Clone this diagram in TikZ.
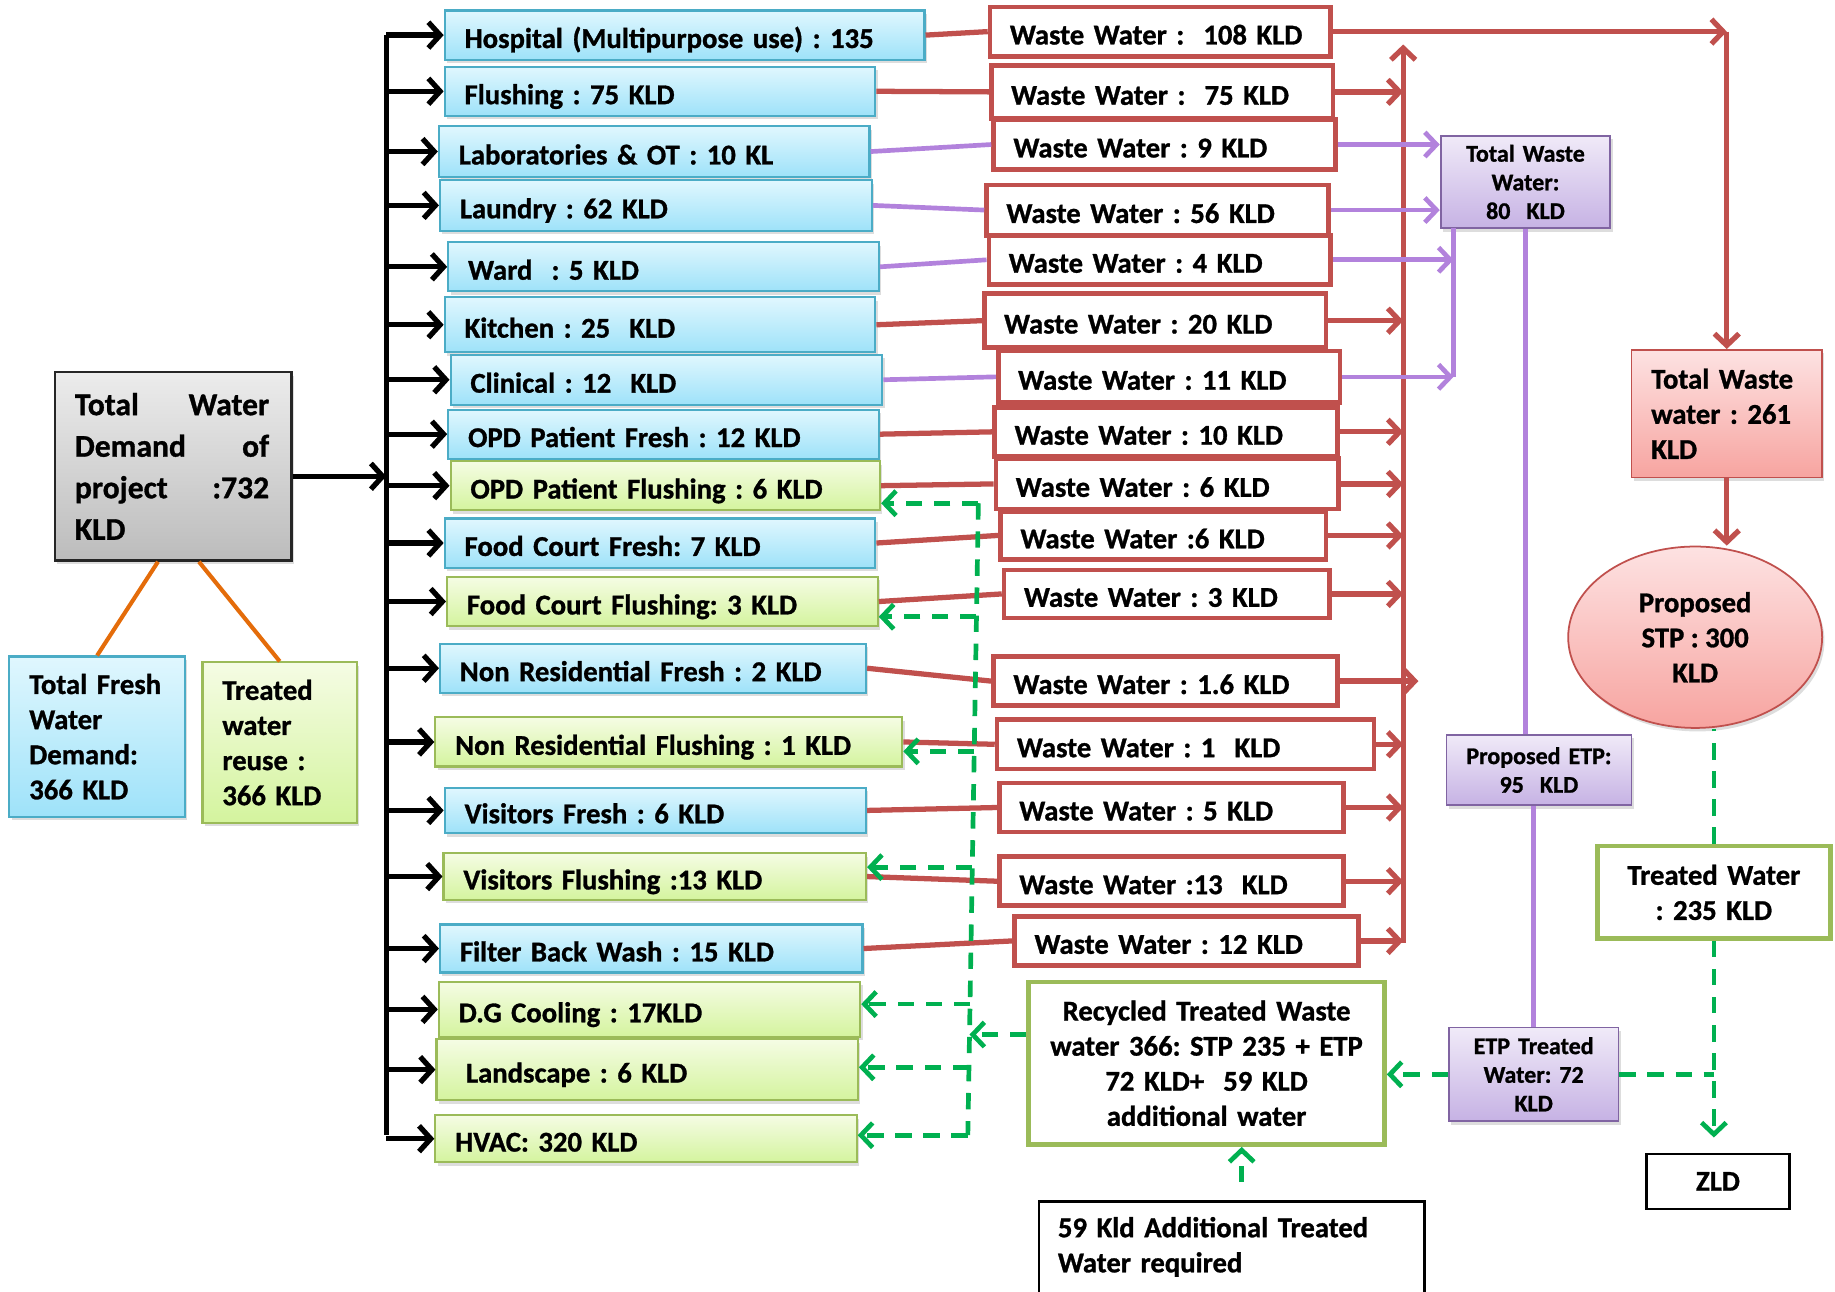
\documentclass[tikz,border=0pt]{standalone}
\usepackage{fontspec}
\setmainfont{Carlito}[BoldFeatures={FakeBold=1}]
\usetikzlibrary{arrows.meta,shapes.geometric,shadows,calc}
\definecolor{bluetop}{RGB}{224,247,254}
\definecolor{bluebot}{RGB}{158,226,249}
\definecolor{bluebd}{RGB}{75,172,198}
\definecolor{greentop}{RGB}{245,252,228}
\definecolor{greenbot}{RGB}{212,244,158}
\definecolor{greenbd}{RGB}{155,187,89}
\definecolor{graytop}{RGB}{236,236,236}
\definecolor{graybot}{RGB}{188,188,188}
\definecolor{pinktop}{RGB}{253,226,226}
\definecolor{pinkbot}{RGB}{247,164,160}
\definecolor{purtop}{RGB}{240,234,248}
\definecolor{purbot}{RGB}{198,178,228}
\definecolor{purbd}{RGB}{128,100,162}
\definecolor{cred}{RGB}{192,80,77}
\definecolor{cpur}{RGB}{178,130,220}
\definecolor{corn}{RGB}{228,108,10}
\definecolor{cgrn}{RGB}{0,176,80}
\newcommand\mkbox[7]{%
 \pgfmathsetmacro\bxw{(#5)-(#3)}%
 \pgfmathsetmacro\bxh{(#6)-(#4)}%
 \pgfmathsetmacro\bxc{((#3)+(#5))/2}%
 \pgfmathsetmacro\byc{((#4)+(#6))/2}%
 \pgfmathsetmacro\btw{\bxw-34}%
 \node[#2, text width=\btw pt, minimum height=\bxh pt] (#1) at (\bxc,\byc) {#7};}
\newcommand\mkboxc[7]{%
 \pgfmathsetmacro\bxw{(#5)-(#3)}%
 \pgfmathsetmacro\bxh{(#6)-(#4)}%
 \pgfmathsetmacro\bxc{((#3)+(#5))/2}%
 \pgfmathsetmacro\byc{((#4)+(#6))/2}%
 \pgfmathsetmacro\btw{\bxw-4}%
 \node[#2, inner xsep=2pt, align=center, text width=\btw pt, minimum height=\bxh pt] (#1) at (\bxc,\byc) {#7};}
\tikzset{
 fnt/.style={font=\bfseries\fontsize{24.5}{30}\selectfont},
 sml/.style={font=\bfseries\fontsize{20.5}{24.5}\selectfont},
 shdw/.style={drop shadow={shadow xshift=2pt, shadow yshift=-3pt, opacity=0.22, fill=black!60}},
 boxbase/.style={fnt, rectangle, inner ysep=0pt, inner xsep=17pt, align=left},
 one/.style={text height=22pt, text depth=0pt},
 bluebox/.style={boxbase, draw=bluebd, line width=1.8pt, top color=bluetop, bottom color=bluebot, shdw},
 greenbox/.style={boxbase, draw=greenbd, line width=1.8pt, top color=greentop, bottom color=greenbot, shdw},
 wastebox/.style={boxbase, one, draw=cred, line width=4pt, fill=white},
 graybox/.style={boxbase, draw=black!85, line width=2pt, top color=graytop, bottom color=graybot, shdw},
 pinkbox/.style={boxbase, draw=cred, line width=1.5pt, top color=pinktop, bottom color=pinkbot, shdw},
 purbox/.style={boxbase, sml, draw=purbd, line width=1.5pt, top color=purtop, bottom color=purbot, shdw},
 gbord/.style={boxbase, draw=greenbd, line width=4pt, fill=white},
 kbord/.style={boxbase, draw=black, line width=2pt, fill=white},
 stpst/.style={fnt, ellipse, draw=cred, line width=1.5pt, top color=pinktop, bottom color=pinkbot, shdw, inner sep=0pt, align=center},
 blkln/.style={draw=black, line width=4.5pt},
 blk/.style={blkln, -{Straight Barb[length=10pt,width=22pt]}},
 redln/.style={draw=cred, line width=4.5pt},
 redarr/.style={redln, -{Straight Barb[length=10pt,width=21pt]}},
 purln/.style={draw=cpur, line width=4pt},
 purarr/.style={purln, -{Straight Barb[length=10pt,width=21pt]}},
 orn/.style={draw=corn, line width=3.5pt},
 grn/.style={draw=cgrn, line width=4pt, dash pattern=on 14pt off 10pt},
 grnarr/.style={grn, -{Straight Barb[length=10pt,width=21pt]}},
}
\begin{document}
\frenchspacing
\begin{tikzpicture}[x=1pt,y=-1pt]
\useasboundingbox (0,0) rectangle (1568,1104);
% left summary boxes
\mkbox{tot}{graybox, font=\bfseries\fontsize{27}{35.5}\selectfont}{47}{318}{249}{479}{\makebox[166pt][l]{Total\hfill Water}\\\makebox[166pt][l]{Demand\hfill of}\\\makebox[166pt][l]{project\hfill :732}\\KLD}
\mkbox{fresh}{bluebox}{8}{561}{158}{698}{Total Fresh\\Water\\Demand:\\366 KLD}
\mkbox{treat}{greenbox}{173}{566}{305}{703}{Treated\\water\\reuse :\\366 KLD}
\draw[orn] ([xshift=-13pt]tot.south) -- (fresh.north);
\draw[orn] ([xshift=22pt]tot.south) -- (treat.north);
% demand boxes
\mkbox{h1}{bluebox,one}{380}{9}{790}{51}{Hospital (Multipurpose use) : 135}
\mkbox{h2}{bluebox,one}{380}{57}{748}{99}{Flushing : 75 KLD}
\mkbox{h3}{bluebox,one}{375}{108}{743}{151}{Laboratories \& OT : 10 KL}
\mkbox{h4}{bluebox,one}{376}{154}{745}{197}{Laundry : 62 KLD}
\mkbox{h5}{bluebox,one}{383}{207}{751}{249}{Ward~ : 5 KLD}
\mkbox{h6}{bluebox,one}{380}{254}{748}{301}{Kitchen : 25~ KLD}
\mkbox{h7}{bluebox,one}{385}{303}{754}{346}{Clinical : 12~ KLD}
\mkbox{h8}{bluebox,one}{383}{350}{751}{392}{OPD Patient Fresh : 12 KLD}
\mkbox{h9}{greenbox,one}{385}{394}{752}{436}{OPD Patient Flushing : 6 KLD}
\mkbox{h10}{bluebox,one}{380}{443}{748}{485}{Food Court Fresh: 7 KLD}
\mkbox{h11}{greenbox,one}{382}{493}{750}{535}{Food Court Flushing: 3 KLD}
\mkbox{h12}{bluebox,one}{376}{550}{740}{592}{Non Residential Fresh : 2 KLD}
\mkbox{h13}{greenbox,one}{372}{613}{771}{655}{Non Residential Flushing : 1 KLD}
\mkbox{h14}{bluebox,one}{380}{673}{740}{712}{Visitors Fresh : 6 KLD}
\mkbox{h15}{greenbox,one}{379}{729}{740}{769}{Visitors Flushing :13 KLD}
\mkbox{h16}{bluebox,one}{376}{790}{737}{831}{Filter Back Wash : 15 KLD}
\mkbox{h17}{greenbox,one}{375}{839}{735}{886}{D.G Cooling : 17KLD}
\mkbox{h18}{greenbox,one}{373}{888}{733}{940}{~Landscape : 6 KLD}
\mkbox{h19}{greenbox,one}{372}{953}{732}{993}{HVAC: 320 KLD}
% bus
\coordinate (bustop) at (330,30);
\coordinate (busbot) at (330,970);
\draw[blkln] (bustop) -- (busbot);
\draw[blk] ([yshift=-8.5pt]tot.east) -- ([yshift=-8.5pt]tot.east -| bustop);
\foreach \i in {1,...,19}{\draw[blk] (h\i.west -| bustop) -- (h\i.west);}
% waste boxes
\mkbox{w1}{wastebox}{846}{6}{1137}{48}{Waste Water :~ 108 KLD}
\mkbox{w2}{wastebox}{847}{56}{1139}{101}{Waste Water :~ 75 KLD}
\mkbox{w3}{wastebox}{849}{102}{1141}{145}{Waste Water : 9 KLD}
\mkbox{w4}{wastebox}{843}{158}{1135}{201}{Waste Water : 56 KLD}
\mkbox{w5}{wastebox}{845}{201}{1137}{243}{Waste Water : 4 KLD}
\mkbox{w6}{wastebox}{841}{251}{1133}{297}{Waste Water : 20 KLD}
\mkbox{w7}{wastebox}{853}{300}{1145}{344}{Waste Water : 11 KLD}
\mkbox{w8}{wastebox}{850}{348}{1143}{390}{Waste Water : 10 KLD}
\mkbox{w9}{wastebox}{851}{392}{1144}{435}{Waste Water : 6 KLD}
\mkbox{w10}{wastebox}{855}{437}{1133}{478}{Waste Water :6 KLD}
\mkbox{w11}{wastebox}{858}{487}{1136}{528}{Waste Water : 3 KLD}
\mkbox{w12}{wastebox}{849}{561}{1143}{603}{Waste Water : 1.6 KLD}
\mkbox{w13}{wastebox}{852}{615}{1174}{657}{Waste Water : 1~ KLD}
\mkbox{w14}{wastebox}{854}{669}{1148}{711}{Waste Water : 5 KLD}
\mkbox{w15}{wastebox}{854}{732}{1148}{774}{Waste Water :13~ KLD}
\mkbox{w16}{wastebox}{867}{783}{1161}{825}{Waste Water : 12 KLD}
% demand -> waste
\foreach \i in {1,2,6,8,9,10,11,12,13,14,15,16}{\draw[redln] (h\i.east) -- (w\i.west);}
\foreach \i in {3,4,5,7}{\draw[purln] (h\i.east) -- (w\i.west);}
% right side nodes
\mkboxc{tww}{purbox}{1231}{116}{1376}{195}{Total Waste\\Water:\\80~ KLD}
\mkbox{pink}{pinkbox}{1394}{299}{1557}{408}{Total Waste\\water : 261\\KLD}
\node[stpst, minimum width=217pt, minimum height=155pt] (stp) at (1448.5,544.5) {Proposed\\STP : 300\\KLD};
\mkboxc{etp}{purbox}{1236}{628}{1394}{688}{Proposed ETP:\\95~ KLD}
\mkboxc{etpt}{purbox}{1238}{878}{1383}{958}{ETP Treated\\Water: 72\\KLD}
\mkboxc{tw}{gbord}{1365}{723}{1564}{802}{Treated Water\\: 235 KLD}
\mkboxc{zld}{kbord}{1407}{986}{1529}{1033}{ZLD}
\mkboxc{rec}{gbord}{879}{839}{1183}{978}{Recycled Treated Waste\\water 366: STP 235 + ETP\\72 KLD+~ 59 KLD\\additional water}
\mkbox{add}{boxbase, inner xsep=16pt}{887}{1027}{1218}{1104}{59 Kld Additional Treated\\Water required}
\draw[black, line width=2pt] (add.south west) |- (add.north east) -- (add.south east);
% red collector
\coordinate (ctop) at (1199,38);
\coordinate (cbot) at (1199,806);
\draw[redarr] (cbot) -- (ctop);
\foreach \i in {2,6,8,9,10,11,13,14,15,16}{\draw[redarr] (w\i.east) -- (w\i.east -| ctop);}
\draw[redarr] (w12.east) -- ([xshift=13pt]w12.east -| ctop);
\draw[redarr] (w1.east) -- (w1.east -| pink.north);
\draw[redarr] (w1.east -| pink.north) -- (pink.north);
\draw[redarr] (pink.south) -- (stp.north -| pink.south);
% purple collector
\draw[purarr] (w3.east) -- (w3.east -| tww.west);
\draw[purarr] (w4.east) -- (w4.east -| tww.west);
\coordinate (pvt) at (1242,195);
\coordinate (pvb) at (1242,322);
\draw[purln] (pvt) -- (pvb);
\draw[purarr] (w5.east) -- (w5.east -| pvt);
\draw[purarr] (w7.east) -- (w7.east -| pvt);
\draw[purln] (tww.south) -- (tww.south |- etp.north);
\draw[purln] (etpt.north) -- (etpt.north |- etp.south);
% green treated-water network (right)
\draw[grn] (tw.north) -- (tw.north |- stp.south);
\draw[grnarr, shorten >=13pt] (tw.south) -- (tw.south |- zld.north);
\draw[grn] (etpt.east) -- (etpt.east -| tw.south);
\draw[grnarr] (etpt.west) -- (etpt.west -| rec.east);
\coordinate (addtop) at (1061,1010);
\draw[grnarr] (addtop) -- (addtop |- rec.south);
% green reuse network (left)
\coordinate (g0) at (836,430);
\coordinate (g2) at (834.4,527);
\coordinate (g3) at (832.5,642);
\coordinate (g4) at (830.8,741);
\coordinate (g5) at (828.9,858);
\coordinate (g6) at (828.4,884);
\coordinate (g7) at (828,912);
\coordinate (g9) at (827,970);
\draw[grn] (g0) -- (g9);
\draw[grnarr] (g0) -- (g0 -| h9.east);
\draw[grnarr] (g2) -- (g2 -| h11.east);
\draw[grnarr] (g3) -- (g3 -| h13.east);
\draw[grnarr] (g4) -- (g4 -| h15.east);
\draw[grnarr] (g5) -- (g5 -| h17.east);
\draw[grnarr] (g7) -- (g7 -| h18.east);
\draw[grnarr] (g9) -- (g9 -| h19.east);
\draw[grnarr] (rec.west |- g6) -- (g6);
\end{tikzpicture}
\end{document}
